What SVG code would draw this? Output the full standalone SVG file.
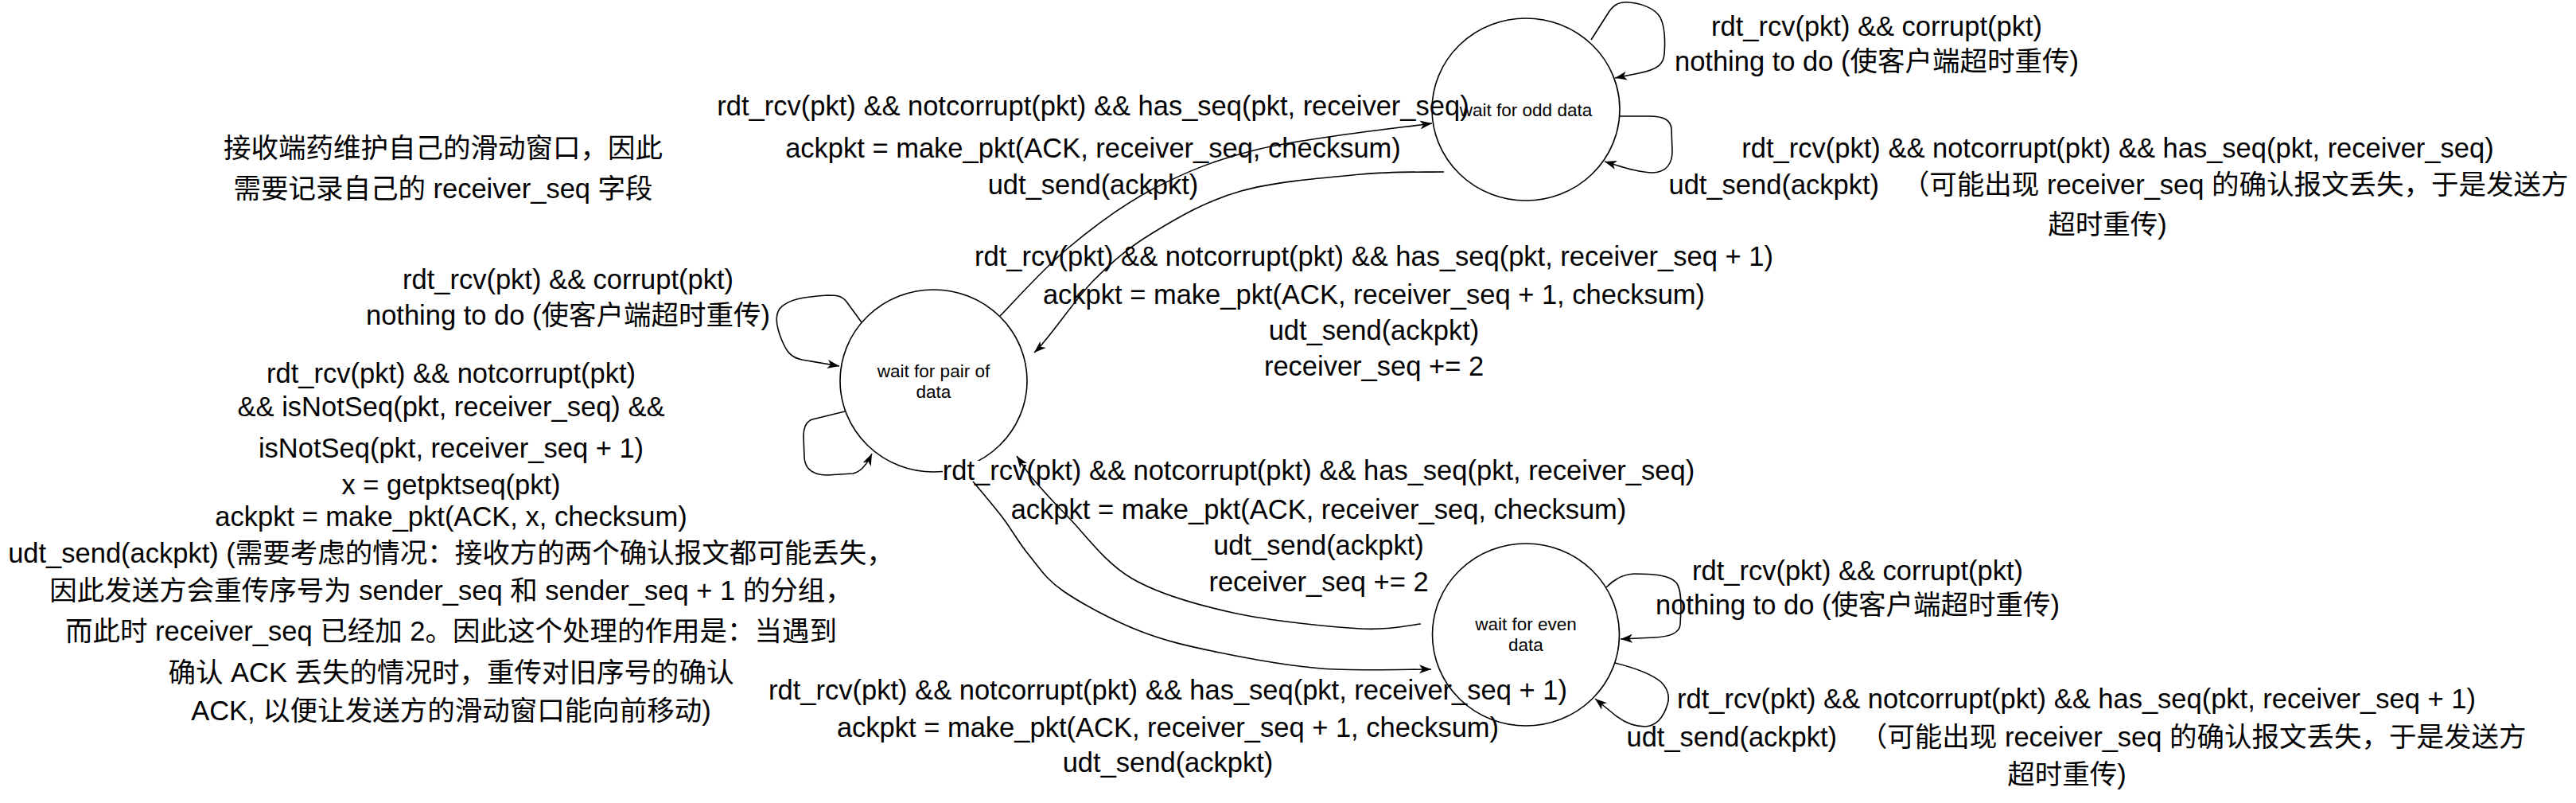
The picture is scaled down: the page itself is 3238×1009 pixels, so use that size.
<svg xmlns="http://www.w3.org/2000/svg" width="3238" height="1009" viewBox="0 0 3238 1009">
<defs>
<style>
.t{font-family:"Liberation Sans","Noto Sans CJK SC",sans-serif;font-size:34.5px;fill:#000;text-anchor:middle}
.n{font-family:"Liberation Sans","Noto Sans CJK SC",sans-serif;font-size:22.5px;fill:#000;text-anchor:middle}
.node{fill:#fff;stroke:#000;stroke-width:1.6}
.edge{fill:none;stroke:#000;stroke-width:1.6;marker-end:url(#arrow)}
</style>
<marker id="arrow" viewBox="0 0 16 12" markerWidth="16" markerHeight="12" refX="15" refY="6" orient="auto" markerUnits="userSpaceOnUse"><path d="M0,0.5 L15,6 L0,11.5 L4,6 Z" fill="#000"/></marker>
</defs>
<rect width="3238" height="1009" fill="#fff"/>
<g id="nodes">
<g id="node-odd"><ellipse class="node" cx="1918" cy="137.5" rx="118" ry="114.5"/><text class="n" x="1918" y="146">wait for odd data</text></g>
<g id="node-pair"><ellipse class="node" cx="1173.5" cy="478.5" rx="117.5" ry="114.5"/><text class="n" x="1173.5" y="474">wait for pair of</text><text class="n" x="1173.5" y="500">data</text></g>
<g id="node-even"><ellipse class="node" cx="1918" cy="797.5" rx="117.5" ry="114.5"/><text class="n" x="1918" y="792">wait for even</text><text class="n" x="1918" y="818">data</text></g>
</g>
<rect id="label-bg" x="1185" y="579" width="946" height="27" fill="#fff"/>
<g id="connectors">
<path id="e-pair-odd" class="edge" d="M1257,397 C1271,383 1309,340 1341,313 C1373,286 1410,258 1450,237 C1491,216 1526,201 1584,187 C1642,173 1764,160 1800,155"/>
<path id="e-odd-pair" class="edge" d="M1815,216 C1797.7,216.5 1753.5,215 1711,219 C1668.5,223 1603.5,227.8 1560,240 C1516.5,252.2 1480.8,273.3 1450,292 C1419.2,310.7 1400,326.8 1375,352 C1350,377.2 1318,426.8 1300,443"/>
<path id="e-pair-even" class="edge" d="M1223,605 C1229.2,612.5 1248.3,634.7 1260,650 C1271.7,665.3 1280.2,681.5 1293,697 C1305.8,712.5 1313.7,727 1337,743 C1360.3,759 1400.3,780.2 1433,793 C1465.7,805.8 1495,812.2 1533,820 C1571,827.8 1616.7,836.5 1661,840 C1705.3,843.5 1776,840.8 1799,841"/>
<path id="e-even-pair" class="edge" d="M1786,784 C1773.3,785 1749.3,792.3 1710,790 C1670.7,787.7 1597.8,780.5 1550,770 C1502.2,759.5 1457.5,747 1423,727 C1388.5,707 1364,671.2 1343,650 C1322,628.8 1307.8,612.8 1297,600 C1286.2,587.2 1281.2,577.5 1278,573"/>
<path id="e-pair-loop1" class="edge" d="M1083,405 L1064,379 C1058,371 1050,371 1040,371 C1010,373 990,376 980,388 C973,398 977,414 983,428 C988,440 993,449 1008,452 L1055,460"/>
<path id="e-pair-loop2" class="edge" d="M1062,517 L1021,527 C1012,530 1010,538 1010,548 L1011,575 C1012,588 1020,597 1040,597 L1072,595 C1082,593 1090,583 1096,570"/>
<path id="e-odd-loop1" class="edge" d="M2000,50 L2023,14 C2030,4 2038,2 2048,3 C2062,4 2080,10 2087,22 C2094,36 2093,55 2092,68 C2091,80 2085,87 2060,92 L2030,98"/>
<path id="e-odd-loop2" class="edge" d="M2036,146 L2073,146 C2090,146 2100,150 2101,162 L2102,190 C2102,205 2095,216 2078,217 C2060,217 2040,210 2017,203"/>
<path id="e-even-loop1" class="edge" d="M2019,738 C2028,729 2040,721 2055,721 C2075,721 2098,722 2107,732 C2113,740 2113,755 2113,765 L2112,785 C2111,795 2100,800 2080,801 L2037,803"/>
<path id="e-even-loop2" class="edge" d="M2030,833 C2050,838 2075,846 2088,857 C2097,866 2099,875 2096,885 C2092,898 2084,912 2068,913 C2050,913 2035,903 2027,896 L2005,878"/>
</g>
<g id="labels">
<g id="note"><text class="t" x="557" y="198">接收端药维护自己的滑动窗口，因此</text><text class="t" x="557" y="249">需要记录自己的 receiver_seq 字段</text></g>
<g id="l-pair-odd"><text class="t" x="1374" y="145">rdt_rcv(pkt) &amp;&amp; notcorrupt(pkt) &amp;&amp; has_seq(pkt, receiver_seq)</text><text class="t" x="1374" y="198">ackpkt = make_pkt(ACK, receiver_seq, checksum)</text><text class="t" x="1374" y="244">udt_send(ackpkt)</text></g>
<g id="l-odd-pair"><text class="t" x="1727" y="334">rdt_rcv(pkt) &amp;&amp; notcorrupt(pkt) &amp;&amp; has_seq(pkt, receiver_seq + 1)</text><text class="t" x="1727" y="382">ackpkt = make_pkt(ACK, receiver_seq + 1, checksum)</text><text class="t" x="1727" y="427">udt_send(ackpkt)</text><text class="t" x="1727" y="472">receiver_seq += 2</text></g>
<g id="l-even-pair"><text class="t" x="1657.5" y="603">rdt_rcv(pkt) &amp;&amp; notcorrupt(pkt) &amp;&amp; has_seq(pkt, receiver_seq)</text><text class="t" x="1657.5" y="652">ackpkt = make_pkt(ACK, receiver_seq, checksum)</text><text class="t" x="1657.5" y="697">udt_send(ackpkt)</text><text class="t" x="1657.5" y="743">receiver_seq += 2</text></g>
<g id="l-pair-even"><text class="t" x="1468" y="879">rdt_rcv(pkt) &amp;&amp; notcorrupt(pkt) &amp;&amp; has_seq(pkt, receiver_seq + 1)</text><text class="t" x="1468" y="926">ackpkt = make_pkt(ACK, receiver_seq + 1, checksum)</text><text class="t" x="1468" y="970">udt_send(ackpkt)</text></g>
<g id="l-odd-loop1"><text class="t" x="2359" y="45">rdt_rcv(pkt) &amp;&amp; corrupt(pkt)</text><text class="t" x="2359" y="89">nothing to do (使客户端超时重传)</text></g>
<g id="l-odd-loop2"><text class="t" x="2662" y="198">rdt_rcv(pkt) &amp;&amp; notcorrupt(pkt) &amp;&amp; has_seq(pkt, receiver_seq)</text><text class="t" x="2663" y="244">udt_send(ackpkt)&#160;&#160;&#160;（可能出现 receiver_seq 的确认报文丢失，于是发送方</text><text class="t" x="2649" y="294">超时重传)</text></g>
<g id="l-even-loop1"><text class="t" x="2335" y="729">rdt_rcv(pkt) &amp;&amp; corrupt(pkt)</text><text class="t" x="2335" y="772">nothing to do (使客户端超时重传)</text></g>
<g id="l-even-loop2"><text class="t" x="2610" y="890">rdt_rcv(pkt) &amp;&amp; notcorrupt(pkt) &amp;&amp; has_seq(pkt, receiver_seq + 1)</text><text class="t" x="2610" y="938">udt_send(ackpkt)&#160;&#160;&#160;（可能出现 receiver_seq 的确认报文丢失，于是发送方</text><text class="t" x="2598" y="985">超时重传)</text></g>
<g id="l-pair-loop1"><text class="t" x="714" y="363">rdt_rcv(pkt) &amp;&amp; corrupt(pkt)</text><text class="t" x="714" y="408">nothing to do (使客户端超时重传)</text></g>
<g id="l-pair-loop2">
<text class="t" x="567" y="481">rdt_rcv(pkt) &amp;&amp; notcorrupt(pkt)</text>
<text class="t" x="567" y="523">&amp;&amp; isNotSeq(pkt, receiver_seq) &amp;&amp;</text>
<text class="t" x="567" y="575">isNotSeq(pkt, receiver_seq + 1)</text>
<text class="t" x="567" y="621">x = getpktseq(pkt)</text>
<text class="t" x="567" y="661">ackpkt = make_pkt(ACK, x, checksum)</text>
<text class="t" x="567" y="707">udt_send(ackpkt) (需要考虑的情况：接收方的两个确认报文都可能丢失，</text>
<text class="t" x="567" y="754">因此发送方会重传序号为 sender_seq 和 sender_seq + 1 的分组，</text>
<text class="t" x="567" y="805">而此时 receiver_seq 已经加 2。因此这个处理的作用是：当遇到</text>
<text class="t" x="567" y="857">确认 ACK 丢失的情况时，重传对旧序号的确认</text>
<text class="t" x="567" y="905">ACK, 以便让发送方的滑动窗口能向前移动)</text>
</g>
</g>
</svg>
